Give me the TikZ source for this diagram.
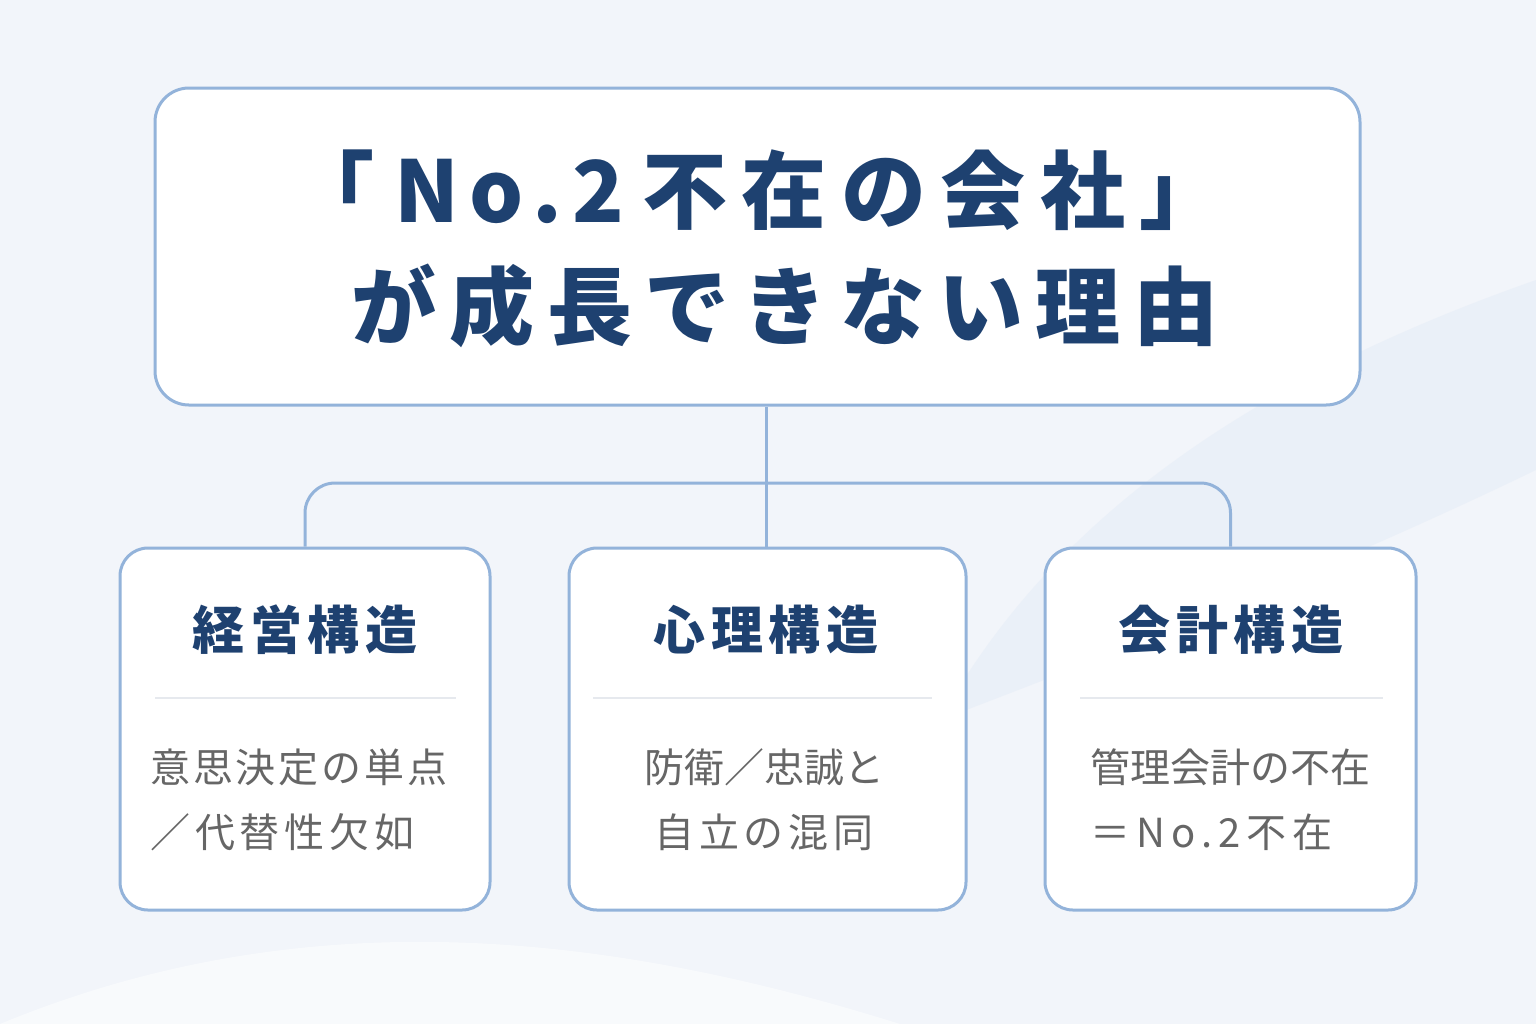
\documentclass[tikz,border=0pt]{standalone}
\usepackage{fontspec}
\setmainfont{Noto Sans CJK JP}
\newfontfamily\headfont[LetterSpace=17]{Noto Sans CJK JP}
\newfontfamily\headfontB[LetterSpace=15]{Noto Sans CJK JP}
\newfontfamily\latinfont[LetterSpace=12]{Noto Sans CJK JP}
\newfontfamily\boxfont[LetterSpace=11]{Noto Sans CJK JP}
\newfontfamily\bodyfont{Noto Sans CJK JP}
\newfontfamily\bodymid[LetterSpace=7]{Noto Sans CJK JP}
\newfontfamily\bodywide[LetterSpace=12]{Noto Sans CJK JP}
\newfontfamily\bodyeq[LetterSpace=15]{Noto Sans CJK JP}
\usepackage{xcolor}
\usetikzlibrary{positioning}
\definecolor{bgblue}{HTML}{F2F5FA}
\definecolor{bandblue}{HTML}{E6EDF7}
\definecolor{edgeblue}{HTML}{93B3DA}
\definecolor{navy}{HTML}{1E4170}
\definecolor{bodygray}{HTML}{666666}
\definecolor{rulegray}{HTML}{E6E9EE}

\begin{document}
\begin{tikzpicture}[x=0.5pt, y=-0.5pt,
        topbox/.style={rectangle, draw=edgeblue, line width=1.5pt, fill=white,
            rounded corners=17pt, minimum width=602.5pt, minimum height=158.5pt},
        causebox/.style={rectangle, draw=edgeblue, line width=1.5pt, fill=white,
            rounded corners=14pt, minimum height=181pt},
        headline/.style={font=\bfseries\fontsize{42.5}{50}\selectfont, text=navy, inner sep=0pt},
        boxtitle/.style={font=\boxfont\bfseries\fontsize{26}{30}\selectfont, text=navy, inner sep=0pt},
        boxbody/.style={font=\bodyfont\fontsize{20}{32.5}\selectfont, text=bodygray, inner sep=0pt},
        link/.style={draw=edgeblue, line width=1.5pt},
        sep/.style={draw=rulegray, line width=1.2pt}
    ]
        % background
        \fill[bgblue] (0,0) rectangle (1536,1024);
        \fill[bandblue, opacity=0.6] (1536,280) .. controls (1250,380) and (1050,520) .. (940,720)
            .. controls (1150,640) and (1350,560) .. (1536,470) -- cycle;
        \fill[white, opacity=0.5] (0,1024) .. controls (300,900) and (600,930) .. (900,1024) -- cycle;
        \useasboundingbox (0,0) rectangle (1536,1024);

        % boxes
        \node[topbox] (top) at (757.5,246.5) {};
        \node[causebox, minimum width=185pt] (mgmt) at (305,729) {};
        \node[causebox, minimum width=198.5pt] (mind) at (767.5,729) {};
        \node[causebox, minimum width=185.5pt] (acct) at (1230.5,729) {};

        % connectors
        \coordinate (hub) at (766,483);
        \draw[link] (top.south -| hub) -- (mind.north -| hub);
        \draw[link, rounded corners=15pt] (mgmt.north) |- (hub) -| (acct.north);

        % headline
        \node[headline] (line1) at (757,190)
            {\headfont「\hspace*{10pt}{\latinfont No.2}\hspace*{9pt}不在の会社」};
        \node[headline] (line2) at (785,306) {\headfontB が成長できない理由};

        % box contents
        \node[boxtitle] (mgmtT) at (305,630) {経営構造};
        \node[boxtitle] (mindT) at (766,630) {心理構造};
        \node[boxtitle] (acctT) at (1231,630) {会計構造};

        \draw[sep] (155,698) -- (456,698);
        \draw[sep] (593,698) -- (932,698);
        \draw[sep] (1080,698) -- (1383,698);

        \node[boxbody, align=left, anchor=west] (mgmtB) at (150,800)
            {{\bodymid 意思決定の単点}\\{\bodywide ／代替性欠如}};
        \node[boxbody, align=center] (mindB) at (764,800)
            {防衛／忠誠と\\{\bodywide 自立の混同}};
        \node[boxbody, align=left, anchor=west] (acctB) at (1090,800)
            {管理会計の不在\\{\bodyeq ＝No.2不在}};
    \end{tikzpicture}
\end{document}
